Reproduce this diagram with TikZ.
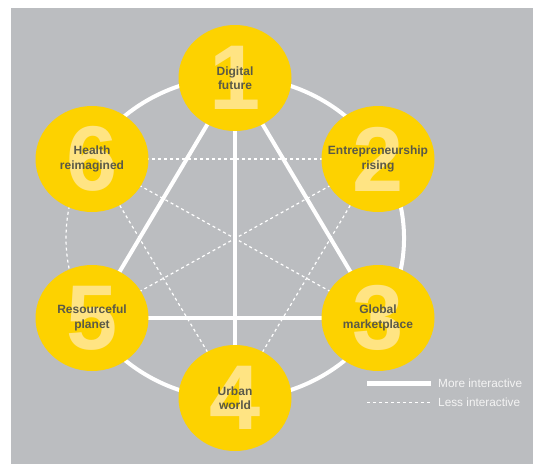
\documentclass[tikz,border=0pt]{standalone}
\usepackage{fontspec}
\setmainfont{Liberation Sans}
\usetikzlibrary{shapes.geometric}
\definecolor{bg}{HTML}{BBBDC0}
\definecolor{yel}{HTML}{FDD200}
\definecolor{numc}{HTML}{FFE483}
\definecolor{txt}{HTML}{5A5948}
\definecolor{legtxt}{HTML}{F4F4F4}
\begin{document}
\begin{tikzpicture}[x=1pt,y=-1pt,
  topic/.style={ellipse, fill=yel, minimum width=113pt, minimum height=106pt, inner sep=0pt},
  strong/.style={white, line width=4pt},
  weak/.style={white, line width=1.2pt, dash pattern=on 3pt off 3pt},
  lbl/.style={font=\bfseries\fontsize{12}{14.5}\selectfont, text=txt, align=center},
  digit/.style={font=\bfseries\fontsize{92}{92}\selectfont, text=numc, inner sep=0pt},
  legend/.style={font=\fontsize{11.8}{13}\selectfont, text=legtxt, anchor=west, inner sep=0pt}]
\useasboundingbox (0,0) rectangle (533,464);
\fill[white] (0,0) rectangle (533,464);
\fill[bg] (11,8) rectangle (533,464);
% centres
\coordinate (c1) at (235,78);
\coordinate (c2) at (378,159);
\coordinate (c3) at (378,318);
\coordinate (c4) at (235,398);
\coordinate (c5) at (92,318);
\coordinate (c6) at (92,159);
\coordinate (ctr) at (235,238);
% outer ring
\draw[strong] (ctr) ++(210:169 and 161) arc[start angle=210, end angle=510, x radius=169, y radius=161];
\draw[weak] (ctr) ++(150:169 and 161) arc[start angle=150, end angle=210, x radius=169, y radius=161];
% less interactive
\draw[weak] (c6) -- (c2);
\draw[weak] (c6) -- (c3);
\draw[weak] (c5) -- (c2);
\draw[weak] (c6) -- (c4);
\draw[weak] (c2) -- (c4);
% more interactive
\draw[strong] (c1) -- (c5);
\draw[strong] (c1) -- (c3);
\draw[strong] (c1) -- (c4);
\draw[strong] (c5) -- (c3);
% circles
\foreach \i in {1,...,6} {
  \node[topic] (n\i) at (c\i) {};
  \node[digit] (d\i) at (c\i) {\i};
}
\node[lbl] (t1) at (c1) {Digital\\future};
\node[lbl] (t2) at (c2) {Entrepreneurship\\rising};
\node[lbl] (t3) at (c3) {Global\\marketplace};
\node[lbl] (t4) at (c4) {Urban\\world};
\node[lbl] (t5) at (c5) {Resourceful\\planet};
\node[lbl] (t6) at (c6) {Health\\reimagined};
% legend
\coordinate (ma) at (367,383);
\coordinate (mb) at (431,383);
\coordinate (la) at (367,402);
\coordinate (lb) at (431,402);
\draw[white, line width=5pt] (ma) -- (mb);
\draw[weak, line width=1pt] (la) -- (lb);
\node[legend] (lm) at (438,383) {More interactive};
\node[legend] (ll) at (438,402) {Less interactive};
\end{tikzpicture}
\end{document}
